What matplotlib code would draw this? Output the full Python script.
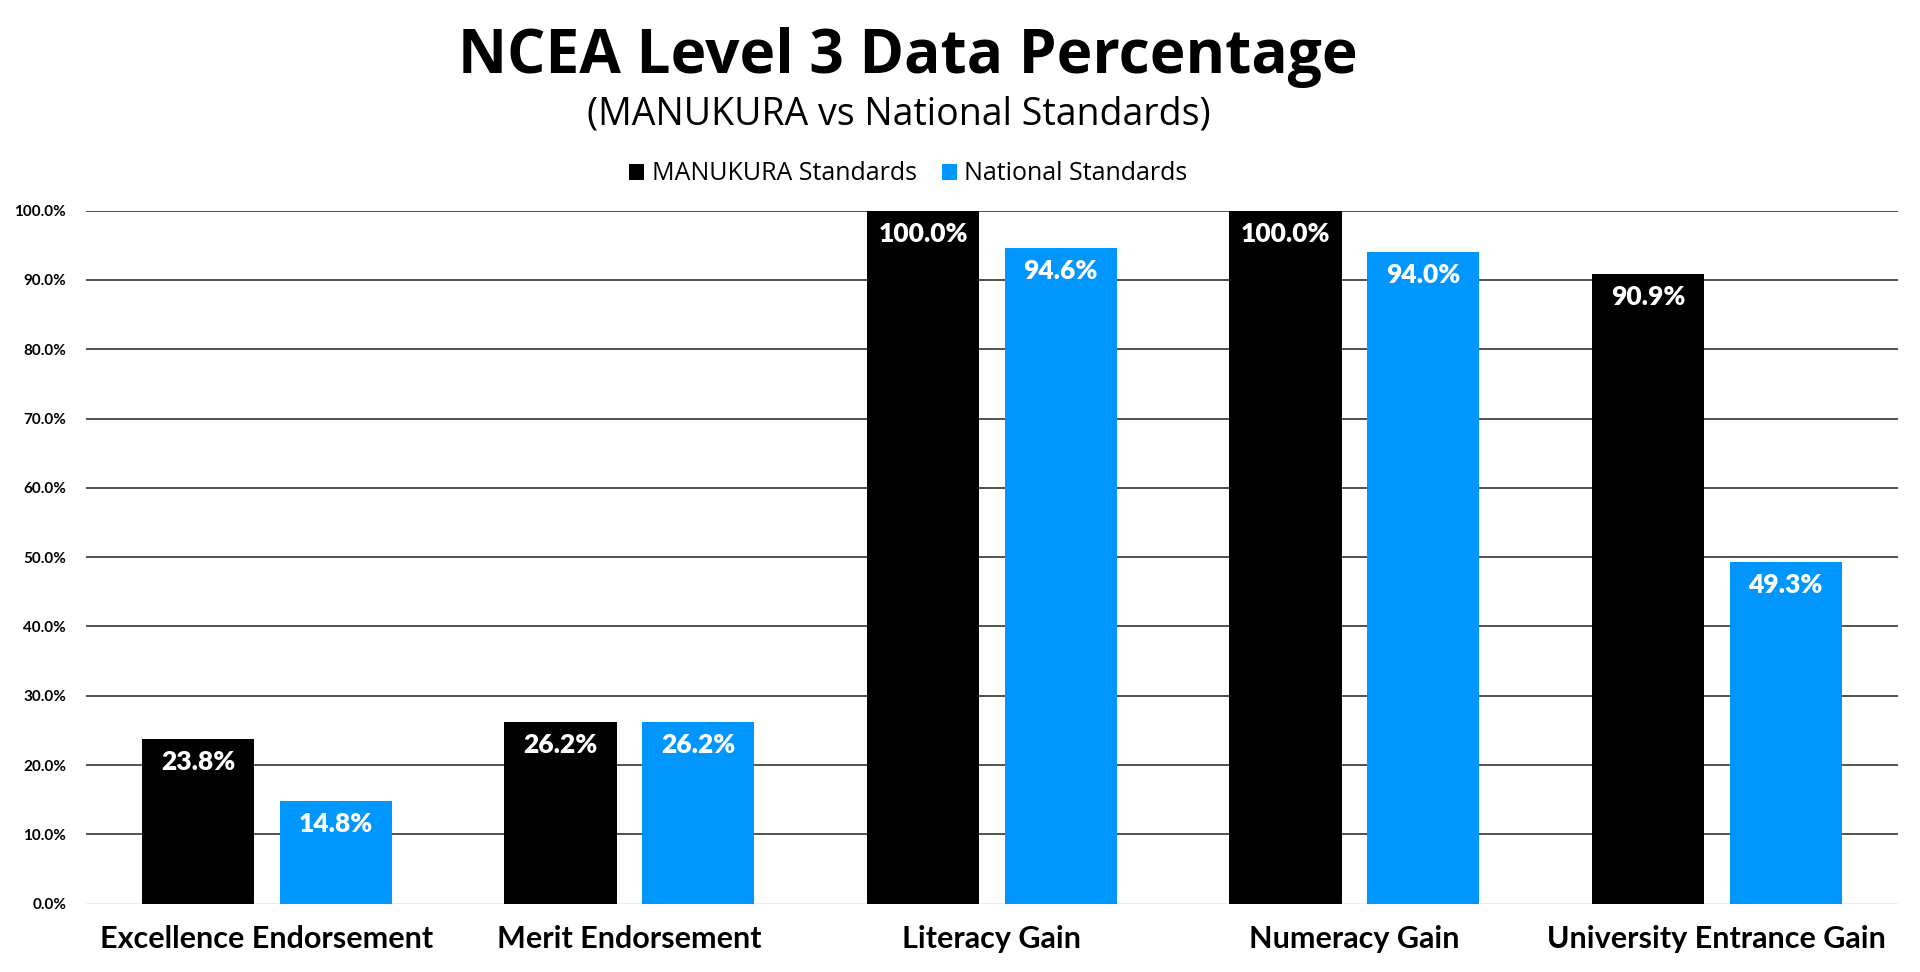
import numpy as np
from matplotlib import pyplot as plt

# chart data
categories = ['Excellence Endorsement', 'Merit Endorsement', 'Literacy Gain',
              'Numeracy Gain', 'University Entrance Gain']
manukura = [23.8, 26.2, 100.0, 100.0, 90.9]
national = [14.8, 26.2, 94.6, 94.0, 49.3]
series_names = ['MANUKURA Standards', 'National Standards']
y_ticks = [0, 10, 20, 30, 40, 50, 60, 70, 80, 90, 100]

black = '#000000'
blue = '#0096ff'

fig = plt.figure(figsize=(19.2, 9.72), dpi=100)
ax = fig.add_axes([0.0446, 0.0703, 0.944, 0.713])

x = np.arange(len(categories))
width = 0.31
offset = 0.19

bars1 = ax.bar(x - offset, manukura, width, color=black, label=series_names[0], zorder=3)
bars2 = ax.bar(x + offset, national, width, color=blue, label=series_names[1], zorder=3)

# value labels inside the top of each bar
for bars in (bars1, bars2):
    for b in bars:
        ax.annotate('%.1f%%' % b.get_height(),
                    (b.get_x() + b.get_width() / 2, b.get_height()),
                    xytext=(0, -11), textcoords='offset pixels',
                    ha='center', va='top', color='white',
                    fontsize=19, fontweight='heavy', family='Lato', zorder=4)

ax.set_xlim(-0.5, len(categories) - 0.5)
ax.set_ylim(0, 100)
ax.set_yticks(y_ticks)
ax.set_yticklabels(['%.1f%%' % t for t in y_ticks], fontsize=11,
                   fontweight='bold', family='Lato')
ax.set_xticks(x)
ax.set_xticklabels(categories, fontsize=22, fontweight='bold', family='Lato')
ax.tick_params(axis='both', length=0)
ax.tick_params(axis='x', pad=15)
ax.tick_params(axis='y', pad=14)

# gridlines
ax.yaxis.grid(True, color='#333333', linewidth=1.2, zorder=0)
for s in ax.spines.values():
    s.set_visible(False)
ax.axhline(0, color='#eeeeee', linewidth=1.5, zorder=2)

# titles
fig.text(0.473, 0.941, 'NCEA Level 3 Data Percentage', ha='center', va='center',
         fontsize=43.5, fontweight='bold', family='Open Sans')
fig.text(0.468, 0.882, '(MANUKURA vs National Standards)', ha='center', va='center',
         fontsize=27, family='Open Sans')

fig.legend(loc='center', bbox_to_anchor=(0.473, 0.821), ncol=2, frameon=False,
           handlelength=0.6, handleheight=0.6, handletextpad=0.3, columnspacing=1.0,
           prop={'family': 'Open Sans', 'size': 18})

plt.savefig('out.png', dpi=100)
